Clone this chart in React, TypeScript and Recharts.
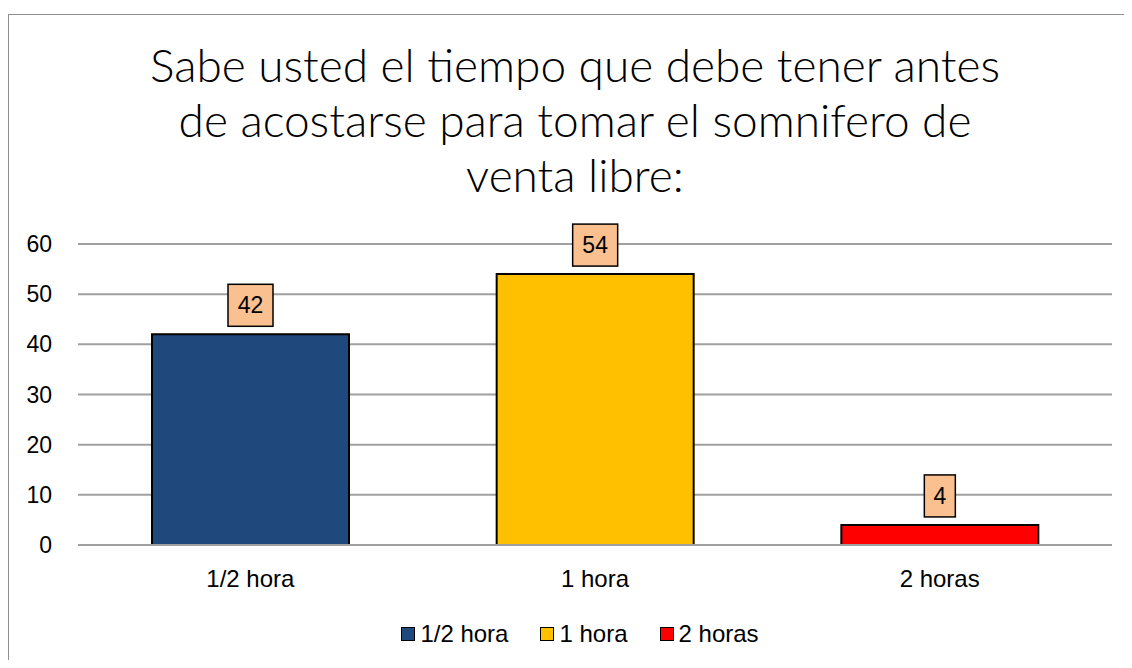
import { BarChart, Bar, Cell, XAxis, YAxis, CartesianGrid, LabelList, Legend } from 'recharts';

const categories = ['1/2 hora', '1 hora', '2 horas'];
const values = [42, 54, 4];
const colors = ['#1F497D', '#FFC000', '#FF0000'];
const yTicks = [0, 10, 20, 30, 40, 50, 60];
const titleLines = [
  'Sabe usted el tiempo que debe tener antes',
  'de acostarse para tomar el somnifero de',
  'venta libre:'
];

const data = categories.map((name, i) => ({ name, value: values[i] }));

const FONT = '"Liberation Sans", Arial, sans-serif';

const ValueBox = (props: any) => {
  const { x, y, width, value } = props;
  const text = String(value);
  const w = 14 * text.length + 17;
  const h = 42;
  const cx = x + width / 2;
  return (
    <g>
      <rect x={cx - w / 2} y={y - 8 - h} width={w} height={h} fill="#FAC090" stroke="#000" strokeWidth={1.5} />
      <text x={cx} y={y - 8 - h / 2} textAnchor="middle" dominantBaseline="central" fontSize={23} fontFamily={FONT} fill="#000">
        {text}
      </text>
    </g>
  );
};

const LegendBox = () => (
  <div style={{ display: 'flex', justifyContent: 'center', alignItems: 'center', fontFamily: FONT, fontSize: 24, color: '#000' }}>
    {categories.map((c, i) => (
      <div key={c} style={{ display: 'flex', alignItems: 'center', marginRight: i < categories.length - 1 ? 32 : 0 }}>
        <span style={{ display: 'inline-block', width: 12, height: 12, background: colors[i], border: '1.5px solid #000', marginRight: 5 }} />
        <span>{c}</span>
      </div>
    ))}
  </div>
);

export default function App() {
  return (
    <div style={{ width: 1124, height: 646, paddingTop: 6, overflow: 'hidden' }}>
      <div
        style={{
          position: 'relative',
          width: 1123,
          height: 645,
          borderTop: '1px solid #8f8f8f',
          borderLeft: '1px solid #8f8f8f',
          background: '#fff'
        }}
      >
        <div
          style={{
            position: 'absolute',
            left: 0,
            top: 22,
            width: 1132,
            textAlign: 'center',
            fontFamily: 'Lato, sans-serif',
            fontWeight: 300,
            fontSize: 46,
            lineHeight: '55px',
            color: '#000'
          }}
        >
          {titleLines.map((l) => (
            <div key={l}>{l}</div>
          ))}
        </div>
        <BarChart
          width={1123}
          height={645}
          data={data}
          margin={{ top: 229, right: 20, left: 0, bottom: 55 }}
          barSize={197}
        >
          <CartesianGrid vertical={false} stroke="#a0a0a0" strokeWidth={2} />
          <XAxis
            dataKey="name"
            height={60}
            tickLine={false}
            axisLine={{ stroke: '#a0a0a0', strokeWidth: 2 }}
            tickSize={0}
            tickMargin={25}
            tick={{ fill: '#000', fontSize: 24, fontFamily: FONT }}
          />
          <YAxis
            width={69}
            domain={[0, 60]}
            ticks={yTicks}
            axisLine={false}
            tickLine={false}
            tickSize={0}
            tickMargin={26}
            tick={{ fill: '#000', fontSize: 23, fontFamily: FONT }}
          />
          <Legend
            layout="horizontal"
            verticalAlign="middle"
            align="center"
            wrapperStyle={{ top: 605, left: 0, width: 1142 }}
            content={() => <LegendBox />}
          />
          <Bar dataKey="value" isAnimationActive={false} stroke="#000" strokeWidth={2}>
            {data.map((d, i) => (
              <Cell key={d.name} fill={colors[i]} />
            ))}
            <LabelList dataKey="value" content={ValueBox} />
          </Bar>
        </BarChart>
      </div>
    </div>
  );
}
